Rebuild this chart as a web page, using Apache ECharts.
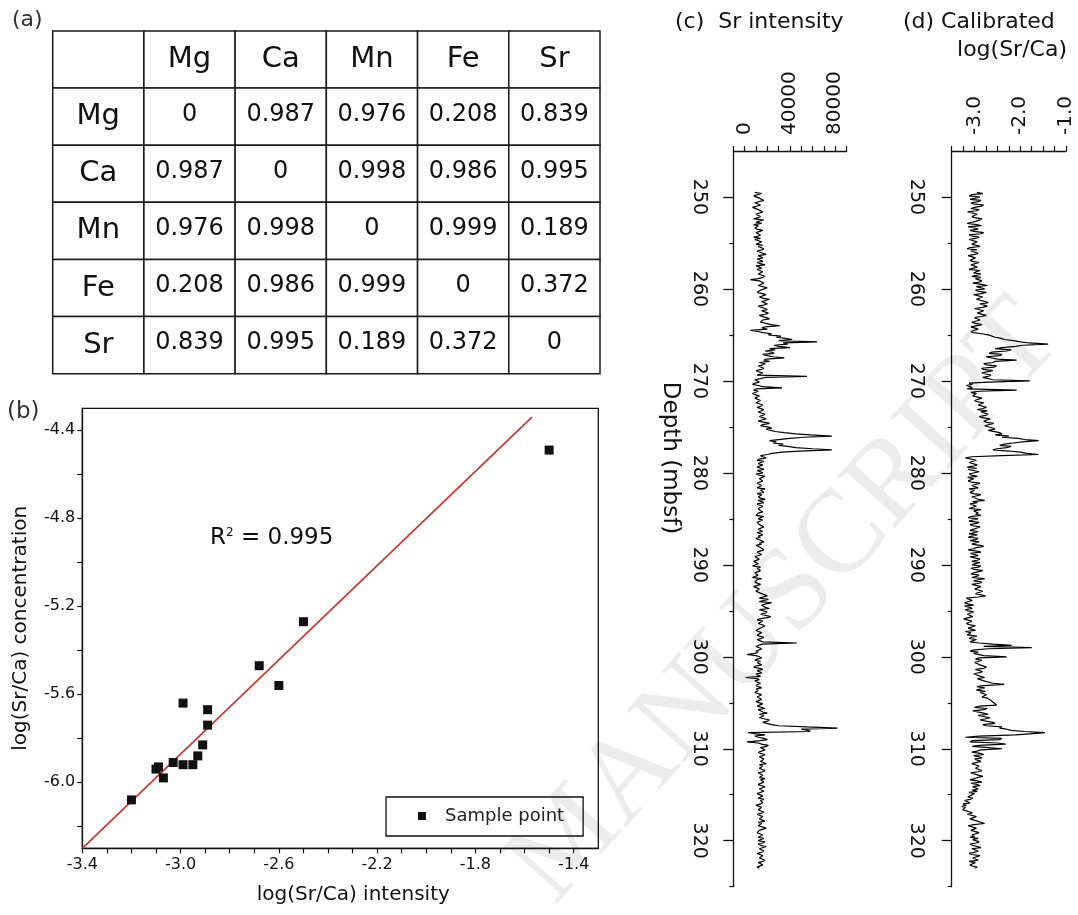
<!DOCTYPE html>
<html>
<head>
<meta charset="utf-8">
<script src="https://cdn.jsdelivr.net/npm/echarts@6/dist/echarts.min.js"></script>
<style>
  html, body { margin: 0; padding: 0; background: #fff; }
  #chart { width: 1078px; height: 915px; }
</style>
</head>
<body>
<div id="chart"></div>
<script>
// ---------- (a) correlation table ----------
const elements = ['Mg', 'Ca', 'Mn', 'Fe', 'Sr'];
const corrMatrix = [
  [0, 0.987, 0.976, 0.208, 0.839],
  [0.987, 0, 0.998, 0.986, 0.995],
  [0.976, 0.998, 0, 0.999, 0.189],
  [0.208, 0.986, 0.999, 0, 0.372],
  [0.839, 0.995, 0.189, 0.372, 0]
];

// ---------- (b) calibration ----------
const sampleIntensity     = [-1.50, -2.50, -2.68, -2.60, -2.99, -2.89, -2.89, -2.91, -2.93, -2.95, -2.99, -3.03, -3.09, -3.10, -3.07, -3.20];
const sampleConcentration = [-4.49, -5.27, -5.47, -5.56, -5.64, -5.67, -5.74, -5.83, -5.88, -5.92, -5.92, -5.91, -5.93, -5.94, -5.98, -6.08];
const fitIntensity     = [-3.40, -1.57];
const fitConcentration = [-6.30, -4.34];
const bXTickLabels = [-3.4, -3.0, -2.6, -2.2, -1.8, -1.4];
const bYTickLabels = [-6.0, -5.6, -5.2, -4.8, -4.4];
const r2Text = '0.995';

// ---------- (c),(d) depth logs (0.125 m sampling, 40 samples = 5 m per row) ----------
const depthStart = 249.5, depthStep = 0.125;
const depthTickLabels = [250, 260, 270, 280, 290, 300, 310, 320];
const srTickLabels = [0, 40000, 80000];
const calTickLabels = [-3.0, -2.0, -1.0];

const srIntensity = [
  9000, 15000, 14000, 8000, 7000, 13000, 12000, 17000, 16000, 9000, 10000, 14000, 13000, 7000, 6000, 12000, 11000, 16000, 15000, 10000, 9000, 14000, 12000, 8000, 17000, 13000, 10000, 15000, 8000, 12000, 13000, 9000, 11000, 16000, 15000, 10000, 9000, 14000, 12000, 8000,
  14000, 9000, 10000, 15000, 13000, 10000, 16000, 12000, 11000, 17000, 15000, 11000, 12000, 16000, 19000, 12000, 13000, 16000, 11000, 14000, 16000, 11000, 14000, 18000, 10000, 13000, 15000, 11000, 12000, 16000, 17000, 12000, 13000, 18000, 16000, 12000, 5000, 13000, 14000, 17000,
  17000, 12000, 13000, 20000, 19000, 14000, 15000, 11000, 12000, 19000, 18000, 13000, 16000, 22000, 21000, 15000, 14000, 20000, 17000, 12000, 13000, 18000, 20000, 15000, 16000, 21000, 18000, 13000, 14000, 19000, 22000, 16000, 17000, 14000, 19000, 23000, 31000, 18000, 15000, 20000,
  5000, 12000, 16000, 24000, 21000, 32000, 28000, 36000, 42000, 30000, 64000, 34000, 38000, 26000, 30000, 40000, 22000, 27000, 18000, 24000, 26000, 16000, 20000, 25000, 35000, 19000, 17000, 22000, 13000, 18000, 16000, 12000, 11000, 17000, 15000, 10000, 12000, 16000, 14000, 11000,
  55000, 18000, 14000, 9000, 10000, 13000, 9000, 7000, 12000, 16000, 33000, 10000, 8000, 12000, 11000, 7000, 9000, 13000, 12000, 9000, 10000, 14000, 13000, 10000, 11000, 16000, 14000, 11000, 12000, 17000, 15000, 12000, 13000, 18000, 16000, 13000, 14000, 19000, 15000, 12000,
  18000, 22000, 16000, 14000, 20000, 24000, 19000, 23000, 27000, 35000, 45000, 58000, 77000, 52000, 40000, 30000, 22000, 28000, 25000, 34000, 30000, 38000, 45000, 60000, 77000, 48000, 33000, 24000, 20000, 14000, 16000, 19000, 13000, 11000, 17000, 14000, 12000, 16000, 15000, 11000,
  14000, 17000, 11000, 14000, 16000, 10000, 13000, 18000, 17000, 13000, 12000, 16000, 15000, 11000, 10000, 15000, 14000, 11000, 18000, 14000, 13000, 17000, 11000, 15000, 16000, 12000, 14000, 18000, 12000, 15000, 17000, 11000, 13000, 16000, 15000, 12000, 11000, 14000, 16000, 12000,
  13000, 10000, 17000, 14000, 12000, 16000, 15000, 11000, 10000, 13000, 14000, 17000, 18000, 12000, 13000, 16000, 11000, 14000, 16000, 12000, 14000, 10000, 12000, 15000, 17000, 13000, 15000, 10000, 11000, 14000, 13000, 17000, 16000, 11000, 12000, 15000, 14000, 9000, 10000, 13000,
  13000, 8000, 9000, 12000, 12000, 7000, 14000, 11000, 10000, 14000, 13000, 9000, 8000, 12000, 11000, 7000, 15000, 11000, 12000, 9000, 10000, 14000, 13000, 8000, 9000, 13000, 12000, 10000, 11000, 15000, 14000, 20000, 16000, 13000, 21000, 17000, 13000, 24000, 19000, 15000,
  14000, 18000, 22000, 13000, 12000, 20000, 18000, 14000, 15000, 23000, 20000, 13000, 11000, 16000, 17000, 12000, 13000, 18000, 19000, 14000, 14000, 10000, 12000, 15000, 16000, 11000, 13000, 17000, 15000, 11000, 12000, 16000, 46000, 15000, 14000, 10000, 11000, 15000, 13000, 10000,
  12000, 9000, 2000, 10000, 13000, 15000, 11000, 9000, 14000, 11000, 12000, 15000, 10000, 8000, 13000, 16000, 11000, 13000, 15000, 10000, 12000, 14000, 1000, 11000, 13000, 9000, 11000, 14000, 14000, 10000, 12000, 15000, 10000, 12000, 13000, 9000, 12000, 15000, 14000, 11000,
  12000, 15000, 14000, 10000, 11000, 16000, 13000, 11000, 15000, 18000, 12000, 14000, 16000, 20000, 13000, 17000, 18000, 13000, 14000, 22000, 20000, 16000, 15000, 24000, 30000, 55000, 82000, 50000, 56000, 58000, 3000, 10000, 18000, 9000, 12000, 17000, 20000, 14000, 2000, 12000,
  15000, 21000, 19000, 14000, 13000, 18000, 17000, 12000, 14000, 18000, 16000, 13000, 12000, 17000, 18000, 14000, 15000, 19000, 13000, 16000, 17000, 13000, 14000, 18000, 16000, 12000, 12000, 16000, 15000, 13000, 18000, 14000, 13000, 17000, 16000, 12000, 14000, 18000, 17000, 13000,
  13000, 17000, 16000, 11000, 12000, 16000, 15000, 12000, 17000, 14000, 13000, 16000, 14000, 10000, 11000, 15000, 16000, 12000, 13000, 17000, 15000, 11000, 12000, 16000, 17000, 13000, 14000, 18000, 12000, 15000, 16000, 12000, 13000, 19000, 18000, 13000, 14000, 11000, 12000, 16000,
  15000, 12000, 17000, 14000, 12000, 18000, 16000, 12000, 14000, 19000, 18000, 13000, 13000, 17000, 15000, 11000, 11000, 16000, 17000, 13000, 14000, 18000, 16000, 12000, 12000, 16000, 15000, 11000, 13000
];

const calibratedLogSrCa = [
  -2.95, -2.82, -3.05, -3.12, -2.88, -2.98, -3.10, -2.86, -2.92, -3.08, -3.02, -2.80, -2.85, -3.00, -3.08, -2.90, -2.97, -3.15, -3.12, -2.94, -2.90, -3.06, -3.00, -2.84, -2.83, -2.96, -3.06, -3.16, -2.95, -2.85, -3.14, -3.00, -2.92, -3.10, -3.01, -2.80, -2.86, -3.12, -3.04, -2.90,
  -2.98, -3.12, -3.08, -2.94, -2.90, -3.06, -3.02, -2.88, -3.10, -3.16, -2.95, -3.08, -3.05, -2.92, -3.00, -3.14, -3.12, -2.98, -2.96, -3.10, -3.04, -2.90, -2.92, -3.08, -3.06, -2.94, -2.98, -3.12, -2.88, -2.96, -3.02, -2.86, -2.94, -3.06, -2.86, -2.98, -3.00, -2.84, -2.90, -3.04,
  -2.84, -2.72, -2.96, -2.86, -2.78, -2.98, -2.92, -2.74, -2.86, -3.02, -3.00, -2.82, -2.80, -2.96, -2.94, -2.76, -2.70, -2.88, -2.90, -2.72, -2.82, -3.00, -2.98, -2.80, -2.76, -2.94, -2.92, -2.74, -2.86, -3.00, -3.04, -2.88, -2.90, -3.06, -2.98, -2.84, -2.88, -3.08, -3.06, -2.92,
  -2.95, -3.08, -3.02, -2.85, -2.70, -2.62, -2.55, -2.42, -2.35, -2.15, -2.00, -1.80, -1.39, -1.95, -2.10, -2.40, -2.55, -2.20, -2.30, -2.62, -2.68, -2.40, -2.45, -2.75, -2.72, -2.50, -2.08, -2.55, -2.60, -2.80, -2.74, -2.52, -2.58, -2.85, -2.80, -2.60, -2.62, -2.84, -2.76, -2.64,
  -2.70, -2.82, -2.85, -2.60, -1.79, -2.70, -3.12, -3.05, -3.18, -3.10, -3.05, -3.16, -2.08, -2.90, -3.08, -2.96, -2.92, -3.04, -3.00, -2.84, -2.86, -3.00, -2.95, -2.80, -2.78, -2.92, -2.90, -2.74, -2.82, -2.94, -2.72, -2.86, -2.88, -2.70, -2.76, -2.90, -2.84, -2.66, -2.68, -2.80,
  -2.74, -2.58, -2.62, -2.78, -2.80, -2.60, -2.55, -2.70, -2.66, -2.45, -2.40, -2.55, -2.25, -2.40, -2.05, -1.90, -1.60, -1.95, -2.15, -2.35, -2.45, -2.20, -2.30, -2.50, -2.60, -2.25, -2.00, -1.85, -1.60, -2.40, -3.05, -3.20, -3.18, -2.96, -2.98, -3.12, -3.15, -2.94, -3.02, -3.16,
  -2.95, -3.14, -3.10, -2.90, -2.92, -3.12, -3.06, -2.94, -3.15, -3.02, -2.98, -3.14, -3.08, -2.88, -2.90, -3.06, -3.04, -2.92, -3.12, -3.00, -2.96, -3.10, -3.02, -2.86, -2.88, -3.06, -3.10, -2.92, -2.78, -3.04, -2.94, -3.10, -3.14, -2.96, -2.99, -3.12, -2.86, -3.02, -3.05, -2.92,
  -2.98, -2.86, -3.08, -3.14, -2.92, -3.04, -3.12, -2.90, -2.96, -3.10, -3.04, -2.88, -2.88, -3.02, -3.10, -2.92, -3.00, -3.12, -2.94, -3.06, -3.14, -2.92, -2.97, -3.10, -2.90, -2.98, -3.06, -2.88, -2.80, -2.96, -3.02, -3.14, -2.95, -2.86, -3.09, -3.00, -2.92, -3.10, -3.00, -2.88,
  -2.95, -3.06, -2.88, -2.98, -3.05, -2.86, -2.92, -3.08, -3.00, -2.82, -2.85, -3.02, -3.08, -2.90, -2.96, -3.06, -2.78, -2.92, -3.02, -2.84, -2.90, -3.06, -3.04, -2.86, -2.87, -3.00, -2.98, -2.82, -2.80, -2.98, -3.00, -2.76, -2.92, -3.18, -3.20, -3.05, -3.08, -3.22, -3.15, -3.02,
  -3.22, -3.10, -3.05, -3.20, -3.15, -3.02, -3.00, -3.16, -3.18, -3.04, -3.08, -3.24, -3.25, -3.06, -3.02, -3.18, -3.12, -2.98, -2.96, -3.14, -3.10, -2.98, -3.20, -3.08, -3.04, -3.16, -2.95, -3.06, -3.12, -2.96, -3.00, -3.10, -2.90, -2.60, -2.19, -2.80, -1.75, -2.70, -3.00, -3.10,
  -2.92, -3.02, -3.05, -2.80, -2.30, -2.90, -2.98, -2.84, -2.85, -3.00, -3.02, -2.88, -2.90, -2.74, -2.80, -2.98, -2.96, -2.82, -2.86, -3.02, -3.00, -2.86, -2.78, -2.94, -2.92, -2.80, -2.84, -2.60, -2.35, -2.80, -2.95, -2.78, -2.82, -2.96, -2.76, -2.88, -2.90, -2.74, -2.70, -2.84,
  -2.72, -2.69, -2.64, -2.62, -2.58, -2.54, -2.52, -2.90, -3.00, -2.72, -2.80, -3.04, -3.08, -2.80, -2.70, -2.92, -2.95, -2.66, -2.62, -2.88, -2.85, -2.60, -2.55, -2.82, -2.75, -2.40, -2.45, -2.30, -2.20, -1.90, -1.46, -1.80, -2.10, -2.90, -3.20, -2.40, -2.45, -3.05, -3.10, -2.50,
  -2.32, -2.90, -3.05, -2.70, -2.40, -2.86, -2.95, -3.06, -2.88, -2.80, -3.02, -2.90, -2.84, -3.00, -2.98, -2.86, -2.90, -3.06, -3.04, -2.90, -2.86, -2.98, -2.96, -2.84, -2.92, -3.08, -3.06, -2.92, -2.82, -2.94, -3.00, -3.10, -2.94, -2.84, -3.08, -2.96, -2.88, -3.04, -3.02, -2.92,
  -3.05, -2.94, -3.12, -3.00, -2.98, -3.10, -3.15, -3.04, -3.10, -3.22, -3.20, -3.10, -3.25, -3.18, -3.28, -3.20, -3.18, -3.26, -3.22, -3.10, -3.05, -3.16, -3.12, -2.96, -2.98, -3.10, -3.08, -2.94, -2.90, -2.78, -3.02, -3.14, -3.10, -2.96, -2.95, -3.08, -3.05, -2.90, -2.92, -3.06,
  -3.00, -3.10, -2.92, -3.04, -3.08, -2.90, -2.96, -3.10, -3.04, -2.94, -2.86, -3.06, -3.10, -2.92, -2.98, -3.12, -3.06, -2.88, -2.90, -3.04, -3.02, -2.92, -3.12, -2.98, -2.95, -3.10, -3.05, -2.94, -3.00
];

// ---------- build library inputs ----------
const FONT = '"DejaVu Sans", "Liberation Sans", Arial, sans-serif';
const INK = '#111';

const tableCols = [''].concat(elements);
const tableRows = [''].concat(elements);
const tableData = [];
const tableTexts = [];
for (let r = 0; r < tableRows.length; r++) {
  for (let c = 0; c < tableCols.length; c++) {
    tableData.push([c, r]);
    let t = '';
    if (r === 0) t = tableCols[c];
    else if (c === 0) t = tableRows[r];
    else {
      const v = corrMatrix[r - 1][c - 1];
      t = v === 0 ? '0' : v.toFixed(3);
    }
    tableTexts.push(t);
  }
}

const samplePoints = sampleIntensity.map((x, i) => [x, sampleConcentration[i]]);
const fitLine = fitIntensity.map((x, i) => [x, fitConcentration[i]]);
const srSeries = srIntensity.map((v, i) => [v, depthStart + i * depthStep]);
const calSeries = calibratedLogSrCa.map((v, i) => [v, depthStart + i * depthStep]);

// tick positions (style only)
const bXMinor = []; for (let k = -34; k <= -14; k++) bXMinor.push(k / 10);
const bYMinor = []; for (let k = -31; k <= -22; k++) bYMinor.push(k / 5);
const depthMinor = depthTickLabels.map(d => d + 5);

const axisLineStyle = { show: true, onZero: false, lineStyle: { color: INK, width: 1.3 } };

function depthAxes(gridIndex, labelMargin) {
  const base = { gridIndex, type: 'value', inverse: true, min: 245, max: 325, position: 'left', splitLine: { show: false } };
  return [
    Object.assign({}, base, {
      axisLine: axisLineStyle,
      axisTick: { show: true, inside: false, length: 10, customValues: depthTickLabels, lineStyle: { color: INK, width: 1.3 } },
      axisLabel: { show: true, customValues: depthTickLabels, rotate: -90, margin: labelMargin, fontSize: 19, fontFamily: FONT, color: INK }
    }),
    Object.assign({}, base, {
      axisLine: { show: false, onZero: false },
      axisTick: { show: true, inside: false, length: 4, customValues: depthMinor, lineStyle: { color: INK, width: 1.2 } },
      axisLabel: { show: false }
    })
  ];
}

const chart = echarts.init(document.getElementById('chart'), null, { renderer: 'canvas' });

const option = {
  animation: false,
  backgroundColor: '#fff',
  textStyle: { fontFamily: FONT },
  grid: [
    { left: 52.7, top: 31, width: 547.3, height: 342.7 },
    { left: 82.3, top: 408.3, width: 516, height: 440, show: true, borderColor: INK, borderWidth: 1.3, backgroundColor: 'transparent' },
    { left: 733.3, top: 151, width: 113.3, height: 735.7 },
    { left: 951.7, top: 151, width: 114.3, height: 735.7 }
  ],
  xAxis: [
    { gridIndex: 0, type: 'category', data: tableCols, show: false },
    {
      gridIndex: 1, type: 'value', min: -3.4, max: -1.3, position: 'bottom',
      axisLine: axisLineStyle,
      axisTick: { show: true, inside: false, length: 5, customValues: bXMinor, lineStyle: { color: INK, width: 1.2 } },
      axisLabel: { customValues: bXTickLabels, formatter: v => v.toFixed(1), fontSize: 16, fontFamily: FONT, color: INK, margin: 9 },
      splitLine: { show: false },
      name: 'log(Sr/Ca) intensity', nameLocation: 'middle', nameGap: 36,
      nameTextStyle: { fontSize: 20, fontFamily: FONT, color: INK, padding: [0, 0, 0, 26] }
    },
    {
      gridIndex: 2, type: 'value', min: -10000, max: 90000, interval: 10000, position: 'top',
      axisLine: axisLineStyle,
      axisTick: { show: true, inside: false, length: 5, lineStyle: { color: INK, width: 1.2 } },
      axisLabel: { customValues: srTickLabels, formatter: v => String(v), rotate: -90, margin: 16, fontSize: 20, fontFamily: FONT, color: INK },
      splitLine: { show: false }
    },
    {
      gridIndex: 3, type: 'value', min: -3.5, max: -1.0, interval: 0.25, position: 'top',
      axisLine: axisLineStyle,
      axisTick: { show: true, inside: false, length: 5, lineStyle: { color: INK, width: 1.2 } },
      axisLabel: { customValues: calTickLabels, formatter: v => v.toFixed(1), rotate: -90, margin: 16, fontSize: 20, fontFamily: FONT, color: INK },
      splitLine: { show: false }
    }
  ],
  yAxis: [
    { gridIndex: 0, type: 'category', data: tableRows, inverse: true, show: false },
    {
      gridIndex: 1, type: 'value', min: -6.3, max: -4.3,
      axisLine: axisLineStyle,
      axisTick: { show: true, inside: false, length: 5, customValues: bYMinor, lineStyle: { color: INK, width: 1.2 } },
      axisLabel: { customValues: bYTickLabels, formatter: v => v.toFixed(1), fontSize: 16, fontFamily: FONT, color: INK, margin: 7 },
      splitLine: { show: false },
      name: 'log(Sr/Ca) concentration', nameLocation: 'middle', nameGap: 52,
      nameTextStyle: { fontSize: 20, fontFamily: FONT, color: INK }
    }
  ].concat(depthAxes(2, 25), depthAxes(3, 26)),
  legend: {
    data: ['Sample point'],
    left: 386, top: 797,
    padding: [10, 19, 11, 32],
    borderColor: INK, borderWidth: 1.3,
    selectedMode: false,
    icon: 'rect', itemWidth: 8, itemHeight: 8,
    itemStyle: { color: INK, opacity: 1 },
    textStyle: { fontSize: 18, fontFamily: FONT, color: '#222', padding: [0, 0, 0, 14] }
  },
  graphic: [
    {
      type: 'text', silent: true, z: -10,
      x: 575, y: 925, rotation: 48 * Math.PI / 180,
      style: { text: 'MANUSCRIPT', font: '118px "Liberation Serif", serif', fill: '#ececec', align: 'left', verticalAlign: 'bottom' }
    },
    { type: 'text', x: 12, y: 20, style: { text: '(a)', font: '22px ' + FONT, fill: '#333', verticalAlign: 'middle' } },
    { type: 'text', x: 7, y: 412, style: { text: '(b)', font: '23px ' + FONT, fill: '#333', verticalAlign: 'middle' } },
    { type: 'text', x: 675, y: 22, style: { text: '(c)  Sr intensity', font: '22px ' + FONT, fill: INK, verticalAlign: 'middle' } },
    { type: 'text', x: 903, y: 22, style: { text: '(d) Calibrated', font: '22px ' + FONT, fill: INK, verticalAlign: 'middle' } },
    { type: 'text', x: 1067, y: 50, style: { text: 'log(Sr/Ca)', font: '22px ' + FONT, fill: INK, align: 'right', verticalAlign: 'middle' } },
    {
      type: 'text', x: 670, y: 458, rotation: -Math.PI / 2,
      style: { text: 'Depth (mbsf)', font: '23px ' + FONT, fill: INK, align: 'center', verticalAlign: 'middle' }
    },
    {
      type: 'text', x: 210, y: 538,
      style: {
        text: '{r|R}{s|2}{t| = ' + r2Text + '}',
        verticalAlign: 'middle',
        rich: {
          r: { fontSize: 23, fontFamily: FONT, fill: INK },
          s: { fontSize: 12, fontFamily: FONT, fill: INK, verticalAlign: 'top' },
          t: { fontSize: 23, fontFamily: FONT, fill: INK }
        }
      }
    }
  ],
  series: [
    {
      type: 'custom', name: 'table', xAxisIndex: 0, yAxisIndex: 0, silent: true,
      data: tableData,
      renderItem: (params, api) => {
        const col = api.value(0), row = api.value(1);
        const c = api.coord([col, row]);
        const s = api.size([1, 1]);
        const head = row === 0 || col === 0;
        return {
          type: 'group',
          children: [
            { type: 'rect', shape: { x: c[0] - s[0] / 2, y: c[1] - s[1] / 2, width: s[0], height: s[1] },
              style: { fill: '#fff', stroke: '#1a1a1a', lineWidth: 1.5 } },
            { type: 'text', x: c[0], y: c[1] + (head ? 0 : -2),
              style: { text: tableTexts[params.dataIndex], fill: INK, align: 'center', verticalAlign: 'middle',
                       font: (head ? '29px ' : '24px ') + FONT } }
          ]
        };
      }
    },
    {
      type: 'line', name: 'fit', xAxisIndex: 1, yAxisIndex: 1, data: fitLine,
      symbol: 'none', silent: true, lineStyle: { color: '#d42d2a', width: 1.6 }, z: 3
    },
    {
      type: 'scatter', name: 'Sample point', xAxisIndex: 1, yAxisIndex: 1, data: samplePoints,
      symbol: 'rect', symbolSize: 9, itemStyle: { color: INK, opacity: 1 }, z: 4
    },
    {
      type: 'line', name: 'Sr intensity', xAxisIndex: 2, yAxisIndex: 2, data: srSeries,
      symbol: 'none', silent: true, lineStyle: { color: '#000', width: 1.2 }
    },
    {
      type: 'line', name: 'Calibrated log(Sr/Ca)', xAxisIndex: 3, yAxisIndex: 4, data: calSeries,
      symbol: 'none', silent: true, lineStyle: { color: '#000', width: 1.2 }
    }
  ]
};

chart.setOption(option);
</script>
</body>
</html>
